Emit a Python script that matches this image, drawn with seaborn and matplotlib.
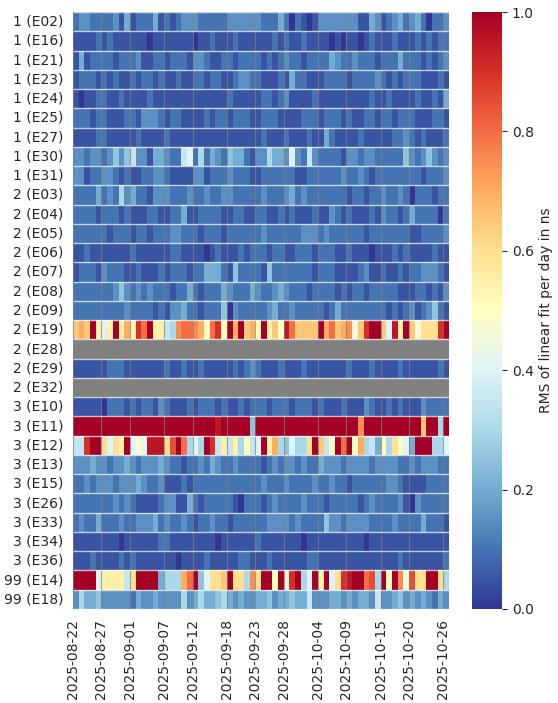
# RMS heat map per satellite and day

import numpy as np
import pandas as pd
import seaborn as sns
import matplotlib
matplotlib.use("Agg")
import matplotlib.pyplot as plt

sns.set_style("white")

# Days on the x axis
first_day = "2025-08-22"
n_days = 66

# Satellite rows, grouped by plane
plane1_labels = ["1 (E02)", "1 (E16)", "1 (E21)", "1 (E23)", "1 (E24)",
                 "1 (E25)", "1 (E27)", "1 (E30)", "1 (E31)"]
plane2_labels = ["2 (E03)", "2 (E04)", "2 (E05)", "2 (E06)", "2 (E07)",
                 "2 (E08)", "2 (E09)", "2 (E19)", "2 (E28)", "2 (E29)", "2 (E32)"]
plane3_labels = ["3 (E10)", "3 (E11)", "3 (E12)", "3 (E13)", "3 (E15)",
                 "3 (E26)", "3 (E33)", "3 (E34)", "3 (E36)"]
plane99_labels = ["99 (E14)", "99 (E18)"]

# One letter per day: a=0.00, b=0.05, c=0.10 ... u=1.00, '-' = no data
LEVELS = "abcdefghijklmnopqrstu"

plane1_codes = [
    "cddccc cdbebc ccebcb cdddcc cccddd dddccc ecacba bddddd ddbbed bcdecd ecaccd",
    "bbbbcb cbbbbb babbbb bbbabb cbbbcb bbbbbc bcbbcb bbbaba bbabcb bbcbbb cbcbcc",
    "bebccc cbcccd bbccbc ccbddc bbccbc cccbcb cdccbc cccedc cdcccb cccecc cbcbcd",
    "bcccbc bcbbcb ccbcbb cbbccb ccbbcd dccbbb cbeccb bbcccc bccccd cbcbcc cbbbcb",
    "babbcc bbcbbb bcbbbb bbbbbb bbbcbb bbbccb cdbbbb cbbbbb bbbbcb bcbbbb cbbcbe",
    "cccbcc bbbccb dddcbc cbbbbc bccbcc cbbccc bbbbcc cbcccb cbbccb ccbccc bbbccb",
    "bbbbcc bbbbbc bbbbcb bbbbbb bbbbbb bbbcbb bcbbbc bbecbb bbcbbb bbccdc bcbbbc",
    "ddcddc dfdfhd dbeedc chicgc edcfee cbddge edidch dccccb ddcddc ccccfd cdfdcd",
    "ddbccd dcbcbb ccddcb bbbddb cccdcc cbbccc cccbbc cccccd ccdcbc cccccc cbcccd",
]
plane2_codes = [
    "ccccec dcgdec cbdddc ccdccd ccddcc cccdcc cdecdc cccccc bccbcc dccdca cccbcc",
    "ccccbc ccbcbb bccbbc cebbcc ccbbcc bbccbb cbcbbb cbbdcb cbbbcb dccbce ccccac",
    "cccccc bcccbc cbcccd dcccbc ccbccc cccdcc ccccdd dcdccc cccbcc cccccb bccccd",
    "bbcbbb bbbbcb bbbbbc cbbbba bcbbbc bcccbc cbbccc bcccbb cbbbab bbcbcb bbbcbb",
    "bcccbd cccbbc bbbcbc ccbcce eecbfc cccbfc cccccc bcccbb bbcdbb cbbcbc cdddcb",
    "cccccc cdfdcd cdcccb ccecbc ccedcc cedccd edcccb ccccbc bccbcc cccbbb ccbcbd",
    "cccccc cccdcc ccbcbd deccbc ccfadc ccccde ccdccc ccbcec cccccc cbcbcd bcdfcb",
    "nonuli lulols qullhg pqqpok qskuou nokuln ktqnnn nuoqno pjnsuu nitlun jmmmsu",
    "-" * 66,
    "bbbbbb cccbbb bbbbcb bcbbcb bbbbcb cdcbbb cbbbcb bbbbbb cbbbcb bbbcbb bbbbcb",
    "-" * 66,
]
plane3_codes = [
    "bbbbba cccbcb ccbdcb bbcbcc cbcbbc bcccbc ccbccc bcbbbc bbbdcb bcbcbb bdcccc",
    "uuuuuu uuuuuu uuuuuu uuuuuu utuuuu ufuuuu uuuuuu uuuuuu uupuuu uuuuuu unuugu",
    "hhsuum imluik itttmr uqgigu shlhlg khiulo gfiggm unhkuq ukoghe kgmkie uuuggi",
    "dddedd cddedc dddedc cbccdc edccdc cccbcd cddcdc cedddc ddddcd dddccd cdddcc",
    "ccdcdd dcddde dccdbb bcbccc cccccc cccdcc cdcccc dccdcc bccccc cddcbb bbcccc",
    "cccccc cdcdcb bbbcdd bbecbc ccccba cccbcd ccccdc ccbccc ccbcdc cccdba dccccc",
    "cdccec ccdccd ddecdc cdcbcc dccbcc ccccdd ddcdcc ccfddc ddddcc ccdccc cecccb",
    "bbbbbb bbabbb bbbccb bbbbbb babbbb bbcbbb bbbbab bbbbbb bbbabb bbbbbb bbbbbb",
    "bbbcbb bbcbcb bbbbbb abbbbc bbbbbc cbbbcb bbbbbc cbbbbb bbbbbb bbbcbb bbbbbc",
]
plane99_codes = [
    "uuuuil lllhmu uuuegg goqufi mmnumm gpmuuk ujsugi uluims tuuqrg ukupjr mmuumg",
    "dgeefd ddddce ddeddd dgdege efgede ddeefd eefeeh dddeed edeedh ddefde dedced",
]


def decode(code):
    code = code.replace(" ", "")
    assert len(code) == n_days, (code, len(code))
    return [np.nan if ch == "-" else LEVELS.index(ch) * 0.05 for ch in code]


labels = plane1_labels + plane2_labels + plane3_labels + plane99_labels
codes = plane1_codes + plane2_codes + plane3_codes + plane99_codes
days = pd.date_range(first_day, periods=n_days)
day_labels = days.strftime("%Y-%m-%d")
rms = pd.DataFrame([decode(c) for c in codes], index=labels, columns=day_labels)
n_rows = len(labels)

fig = plt.figure(figsize=(5.58, 7.03), dpi=100)
ax = fig.add_axes([73 / 558, 94 / 703, 376 / 558, 597 / 703])
cax = fig.add_axes([472 / 558, 94 / 703, 30 / 558, 597 / 703])

sns.heatmap(rms, ax=ax, cbar_ax=cax, cmap="RdYlBu_r", vmin=0, vmax=1,
            cbar_kws={"label": "RMS of linear fit per day in ns"})
ax.set_facecolor("gray")

# ticks on day boundaries, spread over the range
tick_pos = np.linspace(0, n_days - 1, 13).astype(int)
ax.set_xticks(tick_pos)
ax.set_xticklabels(day_labels[tick_pos], rotation=90, fontsize=10)
ax.set_yticks(np.arange(n_rows) + 0.5)
ax.set_yticklabels(labels, rotation=0, fontsize=10)
ax.tick_params(left=False, bottom=False)
ax.set_xlabel("")
ax.set_ylabel("")

ax.vlines(tick_pos, 0, n_rows, colors="gray", linewidth=0.8, alpha=0.7)
ax.hlines(np.arange(n_rows + 1), 0, n_days, colors="white", linewidth=1, alpha=0.7)

cax.tick_params(labelsize=10)
cax.yaxis.label.set_size(10)

fig.savefig("out.png", dpi=100)
